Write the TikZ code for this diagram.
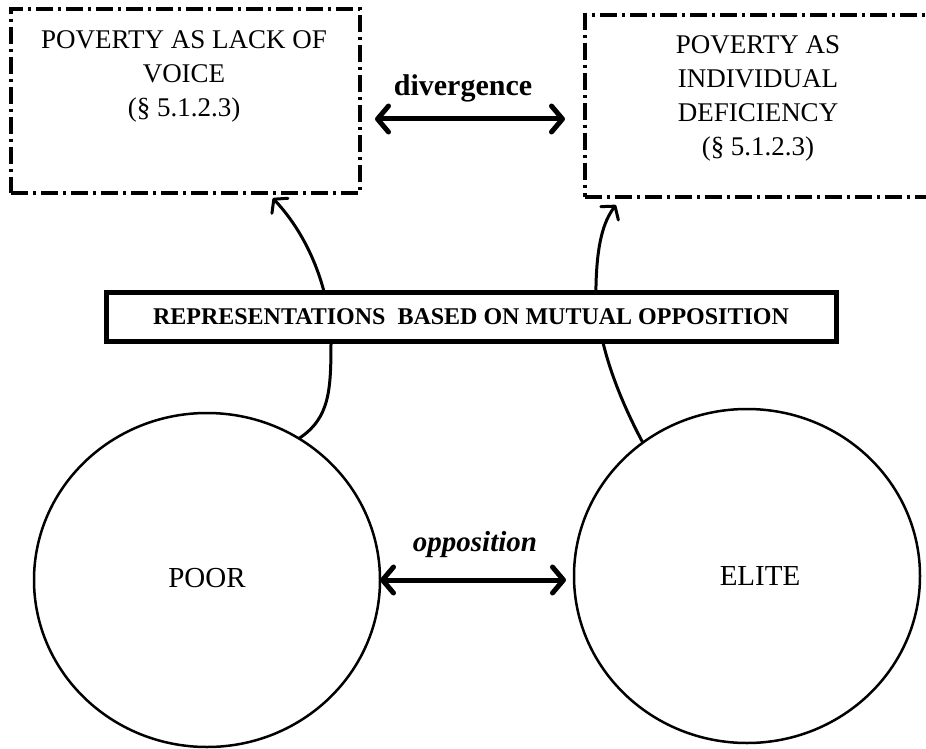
\documentclass[tikz,border=0pt]{standalone}
\usepackage{fontspec}
\setmainfont{Liberation Serif}
\usetikzlibrary{arrows.meta,shapes.geometric}
\begin{document}
\begin{tikzpicture}[x=1pt,y=-1pt,
  framebox/.style={draw, line width=3.5pt, dash pattern=on 17pt off 5pt on 3pt off 5pt,
    inner sep=0pt, outer sep=0pt},
  boxtext/.style={align=center, font=\fontsize{27}{34}\selectfont, inner sep=0pt},
  group/.style={ellipse, draw, line width=2.5pt, inner sep=0pt, outer sep=0pt,
    minimum width=346pt, minimum height=334pt},
  grouptext/.style={font=\fontsize{29}{33}\selectfont, inner sep=0pt},
  relation/.style={line width=5pt,
    {Straight Barb[length=11pt,width=26pt,round]}-{Straight Barb[length=11pt,width=26pt,round]}},
  link/.style={line width=3pt, -{Straight Barb[length=9pt,width=22pt,round]}},
  relabel/.style={font=\fontsize{30}{32}\selectfont\bfseries, inner sep=0pt}]

\path[use as bounding box, clip] (0,0) rectangle (926,749);

% dash-dot frames for the two readings of poverty
\node[framebox, minimum width=349pt, minimum height=184pt] (lbox) at (185.5,101) {};
\node[framebox, minimum width=360pt, minimum height=182pt] (rbox) at (765,106) {};
\node[boxtext] (ltext) at (184,76) {POVERTY AS LACK OF\\VOICE\\(\S\ 5.1.2.3)};
\node[boxtext] (rtext) at (758,98) {POVERTY AS\\INDIVIDUAL\\DEFICIENCY\\(\S\ 5.1.2.3)};

% the two social groups
\node[group] (poor) at (207,580) {};
\node[group] (elite) at (747,576) {};
\node[grouptext] (poorlbl) at (207,578) {POOR};
\node[grouptext] (elitelbl) at (760,576) {ELITE};

% links from each group up to its representation
\draw[link, shorten >=7pt] (poor.57) .. controls (330,418) and (331,390) .. (331,340)
  .. controls (330,295) and (312,240) .. ([xshift=82.5pt]lbox.south);
\draw[link, shorten >=10pt] (elite.128) .. controls (612,385) and (595,330) .. (596,285)
  .. controls (597,245) and (603,222) .. ([xshift=-143pt]rbox.south);

% banner across the middle
\node[draw, fill=white, line width=5pt, minimum width=730pt, minimum height=49pt,
  inner sep=0pt, font=\fontsize{24}{26}\selectfont\bfseries] (banner) at (471,316.5)
  {REPRESENTATIONS\hspace{0.25em} BASED ON MUTUAL OPPOSITION};

% divergence between the representations
\coordinate (dv) at ([yshift=-18pt]lbox.east);
\draw[relation, shorten <=15pt, shorten >=20pt] (dv) -- (dv -| rbox.west);
\node[relabel] (divlbl) at (463,88) {divergence};

% opposition between the groups
\draw[relation, shorten >=8pt] (poor.east) -- (poor.east -| elite.west);
\node[relabel, font=\fontsize{29}{31}\selectfont\bfseries\itshape] (opplbl) at (475,545) {opposition};

\end{tikzpicture}
\end{document}
